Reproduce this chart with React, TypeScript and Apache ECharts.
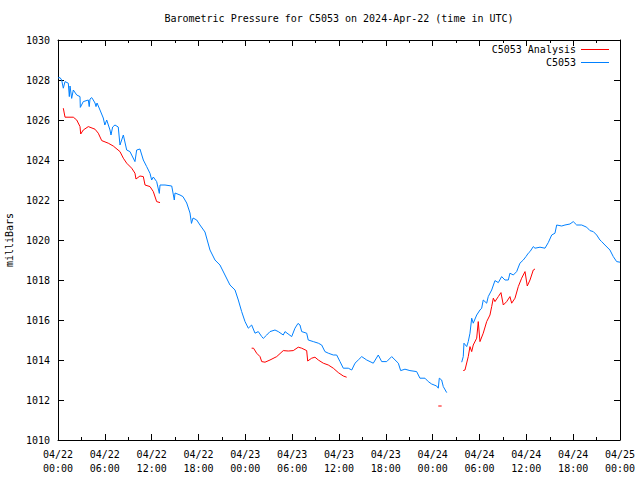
import React, { useEffect, useRef } from "react";
import * as echarts from "echarts";

// Hours since 2024-04-22 00:00 UTC; null value breaks the line
const stationHours = [
  0, 0.26, 0.47, 0.68, 0.9, 1.32, 1.45, 1.54, 1.75, 1.96, 2.4, 2.82, 2.86, 3.24, 3.88, 4.0, 4.1, 4.32, 4.52, 4.74,
  4.87, 5.0, 5.38, 5.8, 6.0, 6.24, 6.66, 6.79, 7.0, 7.3, 7.72, 7.94, 8.37, 8.8, 9.22, 9.86, 10.08, 10.5, 10.93, 11.36,
  11.79, 12.0, 12.21, 12.64, 12.98, 13.07, 13.71, 14.57, 14.9, 14.99, 15.63, 16.01, 16.49, 16.91, 17.1, 17.3, 17.77,
  18.19, 18.83, 19.47, 20.11, 20.75, 21.39, 22.03, 22.68, 23.1, 23.53, 23.96, 24.38, 24.81,
  25.24, 25.66, 26.1, 26.3, 26.74, 27.16, 27.8, 28.22, 28.86, 29.08, 29.94, 30.36, 30.75, 31.0, 31.22, 31.86, 32.06,
  32.71, 33.35, 33.78, 34.2, 34.63, 35.27, 35.7, 36.13, 36.55, 37.19, 37.63, 38.05, 38.47, 38.91, 39.55, 40.39, 41.03,
  41.47, 42.11, 42.75, 43.6, 43.9, 44.45, 45.09, 45.95, 46.37, 47.01, 47.44, 47.87, 48.51, 48.72, 48.85, 49.15, 49.36,
  49.8,
  50.8,
  51.72, 51.92, 52.01, 52.36, 52.56, 52.78, 53.0, 53.2, 53.64, 54.06, 54.28, 54.48, 54.92, 55.12, 55.56, 55.98, 56.41,
  56.84, 57.26, 57.69, 57.9, 58.33, 58.76, 59.18, 59.61, 59.95, 60.25, 60.47, 60.89, 61.11, 61.75, 62.39, 62.81, 63.25,
  63.67, 63.89, 64.53, 64.95, 65.59, 66.01, 66.45, 67.09, 67.73, 68.15, 68.58, 69.01, 69.43, 69.65, 70.07, 70.71,
  71.14, 71.57, 72.0,
];
const stationValues = [
  1028.1, 1028.12, 1028.0, 1027.59, 1027.92, 1027.84, 1027.17, 1027.7, 1027.08, 1027.5, 1027.25, 1027.17, 1026.63,
  1026.92, 1027.0, 1026.67, 1027.05, 1027.12, 1027.0, 1026.85, 1026.67, 1026.85, 1026.5, 1026.1, 1025.75, 1026.0,
  1025.5, 1025.25, 1025.65, 1025.75, 1025.65, 1024.75, 1025.25, 1024.5, 1024.42, 1023.92, 1024.5, 1024.55, 1024.0,
  1023.67, 1023.33, 1023.0, 1023.15, 1022.92, 1022.33, 1022.75, 1022.75, 1022.7, 1022.0, 1022.35, 1022.25, 1022.17,
  1021.85, 1021.35, 1020.83, 1021.1, 1021.0,
  1020.75, 1020.4, 1019.5, 1019.0, 1018.75, 1018.25, 1017.75, 1017.5, 1017.0, 1016.42, 1015.92, 1015.59, 1015.75,
  1015.34, 1015.42, 1015.17, 1015.08, 1015.25, 1015.42, 1015.5, 1015.42, 1015.25, 1015.42, 1015.17, 1015.59, 1015.83,
  1015.75, 1015.42, 1015.34, 1015.0, 1014.92, 1014.84, 1014.75, 1014.42, 1014.34, 1014.25, 1014.25, 1013.92, 1013.59,
  1013.59, 1013.5, 1013.84, 1014.0, 1014.17, 1014.0, 1013.84, 1014.25, 1013.92, 1013.92, 1014.17, 1013.84, 1013.47,
  1013.54, 1013.47, 1013.42, 1013.09, 1013.09, 1012.92, 1012.8, 1012.7, 1012.59, 1013.09, 1013.0, 1012.67, 1012.37,
  null,
  1013.89, 1014.17, 1014.84, 1014.67, 1014.92, 1015.34, 1016.09, 1015.84, 1016.25, 1016.5, 1016.59, 1017.0, 1016.84,
  1017.17, 1017.5, 1017.97, 1017.87, 1018.17, 1018.0, 1018.0, 1018.34, 1018.25, 1018.42, 1018.84, 1019.0, 1019.17,
  1019.34, 1019.42, 1019.67, 1019.59, 1019.64, 1019.59, 1019.87, 1020.25, 1020.34, 1020.75, 1020.7, 1020.75, 1020.8,
  1020.92, 1020.75, 1020.75, 1020.64, 1020.47, 1020.42, 1020.25, 1020.0, 1019.92, 1019.75, 1019.5, 1019.17, 1018.92,
  1018.89,
];

const analysisHours = [
  0.68, 0.9, 1.96, 2.4, 2.82, 2.91, 3.24, 3.88, 4.74, 5.16, 5.6, 6.44, 7.08, 7.94, 8.37, 8.8, 9.44, 9.86, 9.99, 10.5,
  10.93, 11.15, 11.79, 12.21, 12.64, 13.07,
  18.0,
  24.81, 25.05, 25.45, 25.88, 26.1, 26.52, 27.16, 28.02, 28.86, 29.5, 30.14, 30.78, 31.22, 31.86, 31.99, 32.5, 32.92,
  33.35, 33.99, 34.63, 35.27, 35.91, 36.55, 36.98,
  42.0,
  48.72, 49.15,
  50.5,
  51.92, 52.14, 52.56, 52.78, 53.0, 53.2, 53.64, 53.84, 54.06, 54.48, 54.92, 55.34, 55.56, 55.77, 55.98, 56.41, 56.75,
  57.05, 57.48, 57.9, 58.12, 58.55, 58.97, 59.4, 59.83, 60.12, 60.47, 60.89, 61.11,
];
const analysisValues = [
  1026.59, 1026.14, 1026.14, 1026.0, 1025.67, 1025.3, 1025.5, 1025.67, 1025.54, 1025.34, 1024.97, 1024.84, 1024.7,
  1024.42, 1024.09, 1023.84, 1023.59, 1023.34, 1023.05, 1023.2, 1023.17, 1022.75, 1022.67, 1022.42, 1021.92, 1021.87,
  null,
  1014.59, 1014.59, 1014.34, 1014.17, 1013.92, 1013.89, 1014.0, 1014.17, 1014.47, 1014.45, 1014.47, 1014.64, 1014.59,
  1014.47, 1013.95, 1014.09, 1014.14, 1014.0, 1013.84, 1013.75, 1013.59, 1013.37, 1013.2, 1013.14,
  null,
  1011.7, 1011.7,
  null,
  1013.47, 1013.5, 1014.17, 1014.67, 1014.42, 1014.75, 1015.09, 1015.92, 1014.92, 1015.34, 1015.92, 1016.25, 1016.67,
  1017.09, 1016.92, 1017.17, 1017.37, 1016.75, 1016.92, 1017.17, 1016.84, 1017.09, 1017.67, 1018.09, 1018.42, 1017.7,
  1018.0, 1018.5, 1018.55,
];

const titleText = "Barometric Pressure for C5053 on 2024-Apr-22 (time in UTC)";
const yAxisName = "milliBars";
const startDay = 22;
const stationName = "C5053";
const analysisName = "C5053 Analysis";

const FONT = "'DejaVu Sans Mono', 'Liberation Mono', monospace";

function pairs(hours: number[], values: (number | null)[]) {
  return hours.map((h, i) => [h, values[i] === null ? "-" : values[i]]);
}

function timeLabel(h: number) {
  const day = startDay + Math.floor(h / 24);
  const hh = Math.round(h % 24);
  const pad = (n: number) => (n < 10 ? "0" + n : String(n));
  return "04/" + pad(day) + "\n" + pad(hh) + ":00";
}

export default function App() {
  const ref = useRef<HTMLDivElement>(null);
  useEffect(() => {
    if (!ref.current) return;
    const chart = echarts.init(ref.current, undefined, { renderer: "svg" });
    const xCommon = {
      type: "value",
      min: 0,
      max: 72,
      interval: 6,
      splitLine: { show: false },
      axisLine: { show: true, onZero: false, lineStyle: { color: "#000", width: 1 } },
      axisTick: { show: true, inside: true, length: 6, lineStyle: { color: "#000" } },
      minorTick: { show: true, splitNumber: 2, length: 3, lineStyle: { color: "#000" } },
    };
    const yCommon = {
      type: "value",
      min: 1010,
      max: 1030,
      interval: 2,
      splitLine: { show: false },
      axisLine: { show: true, onZero: false, lineStyle: { color: "#000", width: 1 } },
      axisTick: { show: true, inside: true, length: 6, lineStyle: { color: "#000" } },
    };
    chart.setOption({
      animation: false,
      backgroundColor: "#fff",
      title: {
        text: titleText,
        left: 339,
        top: 13,
        padding: 0,
        textAlign: "center",
        textStyle: { fontFamily: FONT, fontSize: 10, fontWeight: "normal", color: "#000" },
      },
      legend: {
        orient: "vertical",
        right: 31,
        top: 43,
        padding: 0,
        align: "right",
        itemGap: 0,
        itemWidth: 28,
        itemHeight: 1,
        icon: "rect",
        textStyle: { fontFamily: FONT, fontSize: 10, color: "#000", lineHeight: 13 },
        data: [analysisName, stationName],
      },
      grid: { left: 58, right: 20, top: 40, bottom: 40, containLabel: false, outerBoundsMode: "none" },
      xAxis: [
        {
          ...xCommon,
          position: "bottom",
          axisLabel: {
            fontFamily: FONT,
            fontSize: 10,
            color: "#000",
            lineHeight: 14,
            margin: 7,
            formatter: (v: number) => timeLabel(v),
          },
        },
        { ...xCommon, position: "top", axisLabel: { show: false } },
      ],
      yAxis: [
        {
          ...yCommon,
          position: "left",
          name: yAxisName,
          nameLocation: "middle",
          nameGap: 44,
          nameRotate: 90,
          nameTextStyle: { fontFamily: FONT, fontSize: 10, color: "#000" },
          axisLabel: { fontFamily: FONT, fontSize: 10, color: "#000", margin: 8, formatter: (v: number) => String(v) },
        },
        { ...yCommon, position: "right", axisLabel: { show: false } },
      ],
      series: [
        {
          name: stationName,
          type: "line",
          showSymbol: false,
          symbol: "none",
          connectNulls: false,
          color: "#0080ff",
          lineStyle: { width: 1, color: "#0080ff" },
          data: pairs(stationHours, stationValues),
        },
        {
          name: analysisName,
          type: "line",
          showSymbol: false,
          symbol: "none",
          connectNulls: false,
          color: "#ff0000",
          lineStyle: { width: 1, color: "#ff0000" },
          data: pairs(analysisHours, analysisValues),
        },
      ],
    });
    return () => chart.dispose();
  }, []);
  return <div ref={ref} style={{ width: 640, height: 480, position: "absolute", left: 0, top: 0 }} />;
}
